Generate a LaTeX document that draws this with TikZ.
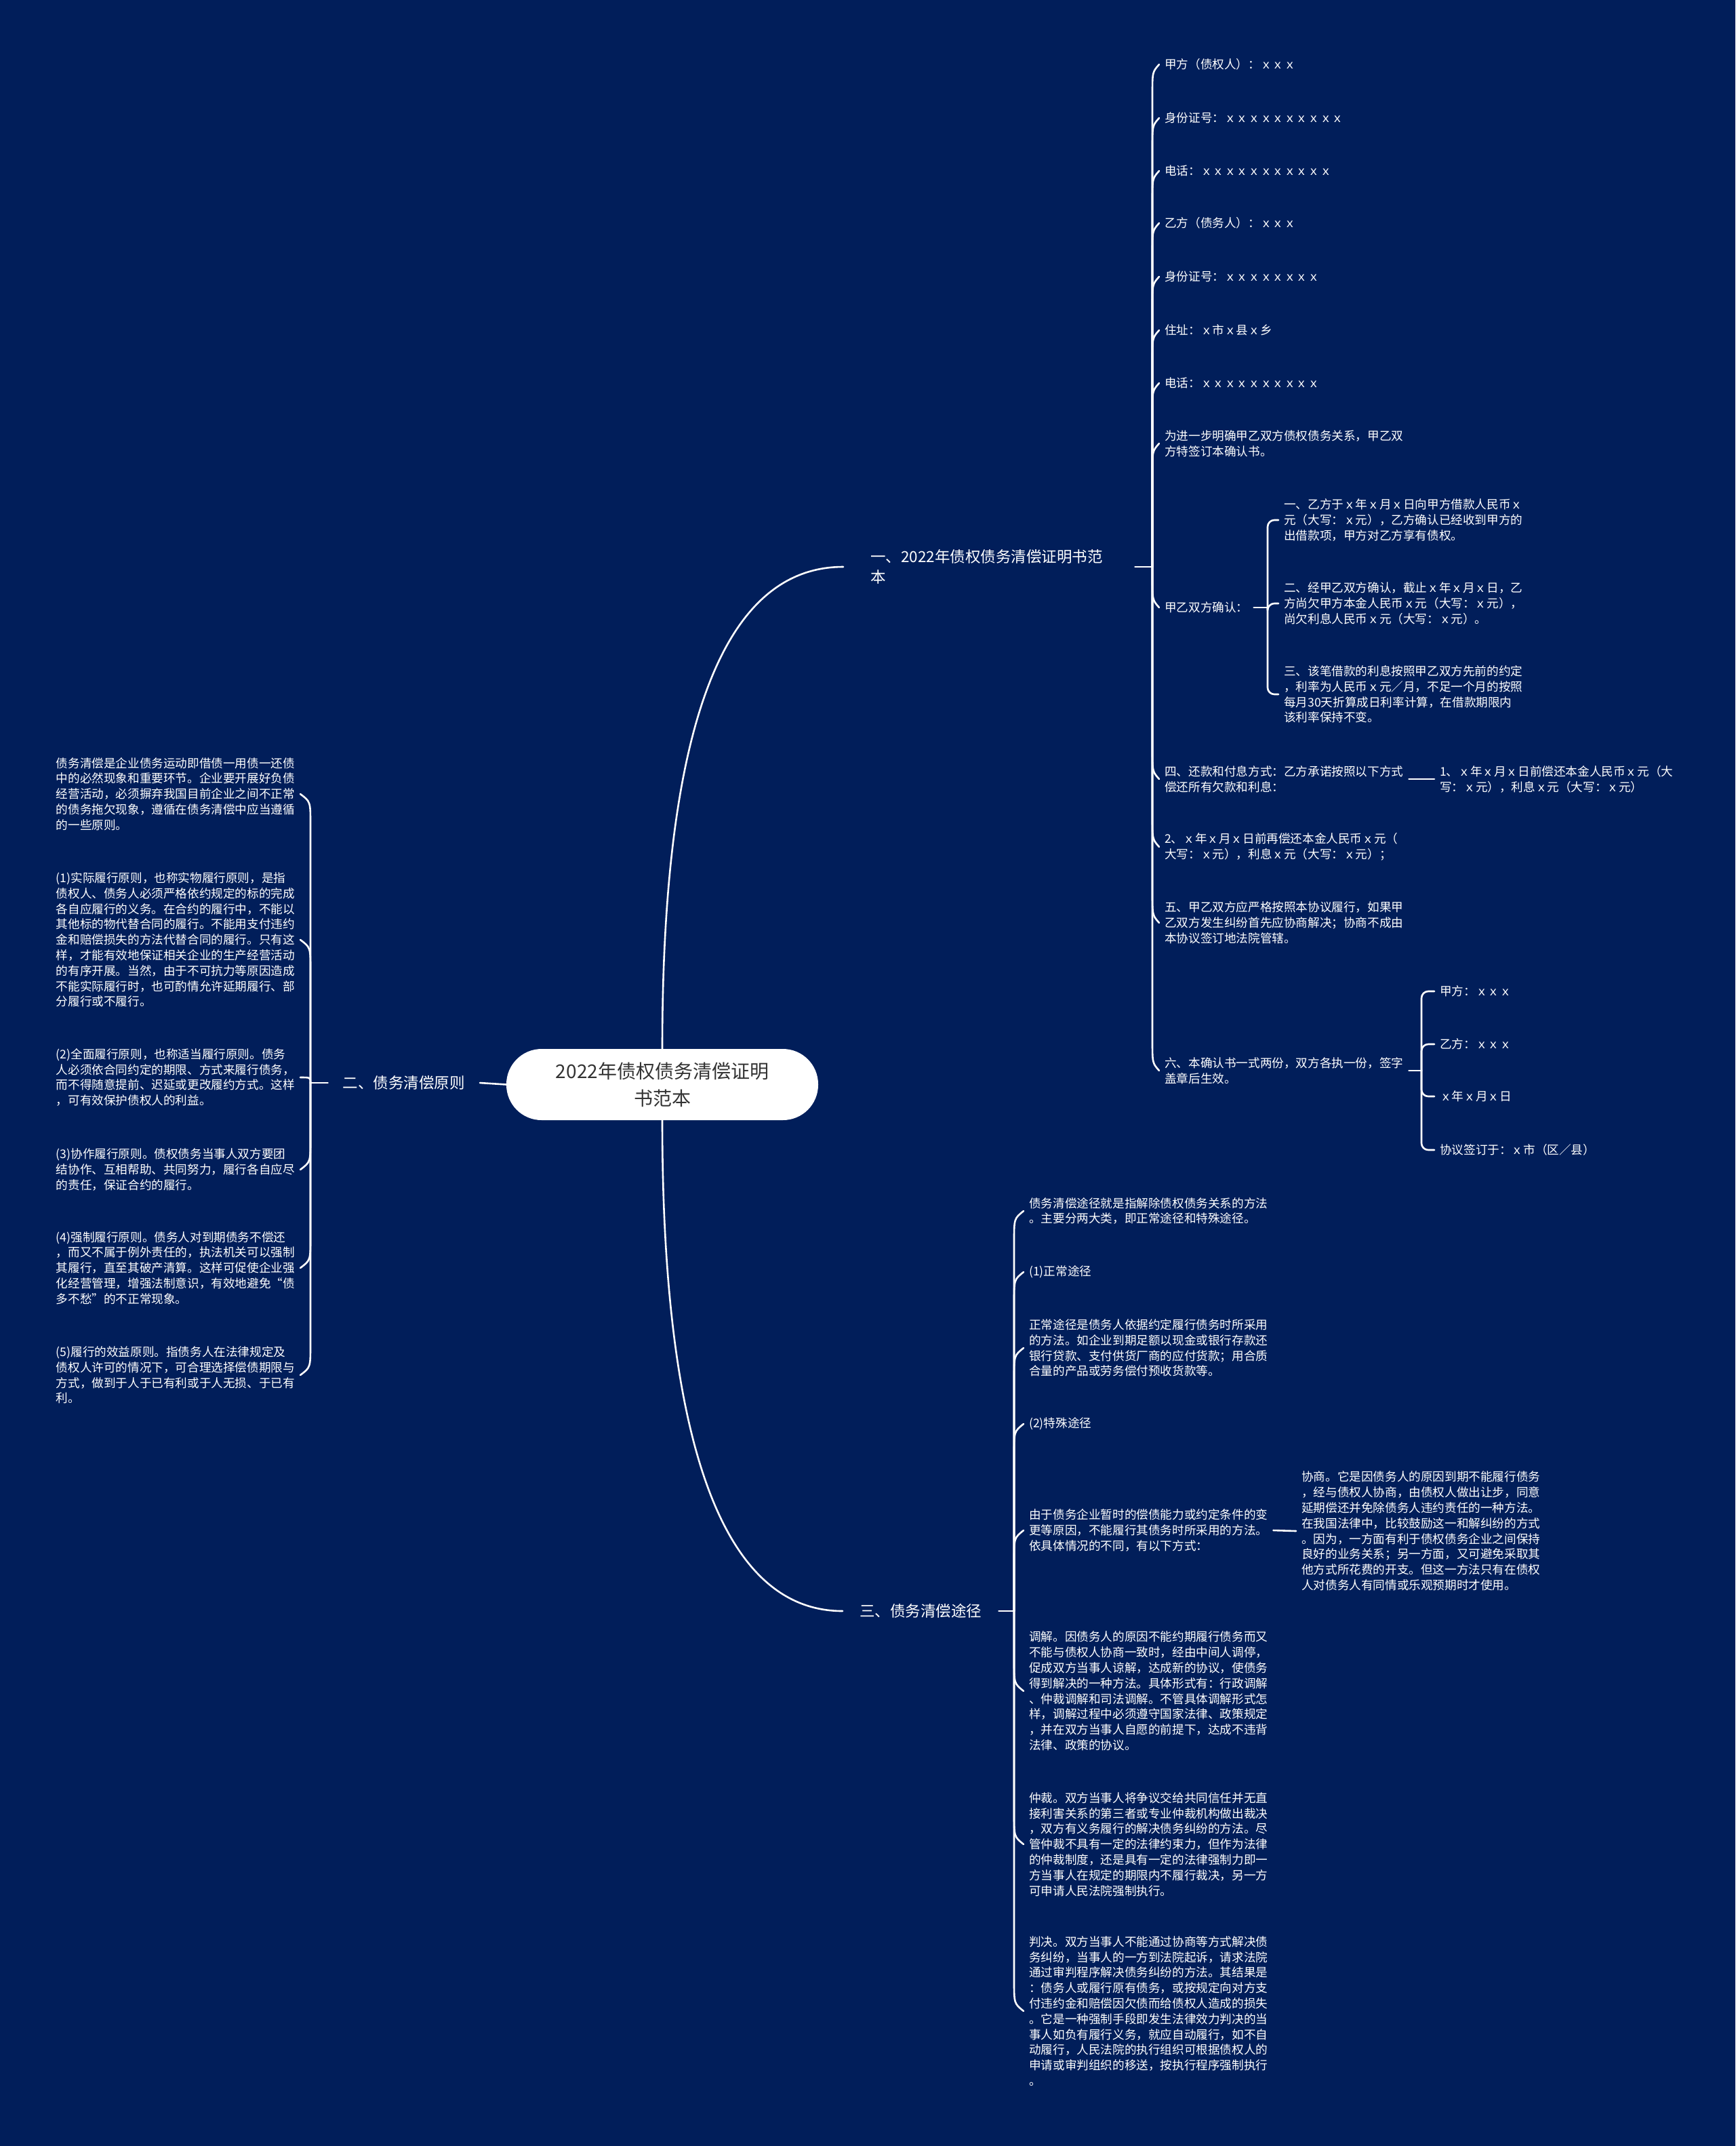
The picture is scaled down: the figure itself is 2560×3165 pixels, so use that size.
\documentclass[tikz,border=0pt]{standalone}
\usepackage{fontspec}
\setmainfont{Noto Sans CJK SC}
\usetikzlibrary{calc}
\definecolor{bgc}{RGB}{1,30,90}
\definecolor{ctext}{RGB}{51,51,51}
\begin{document}
\begin{tikzpicture}[x=1pt,y=-1pt,
  conn/.style={draw=white, line width=2.6pt, line cap=round},
  leaf/.style={text=white, font=\fontsize{17.6}{22.8}\selectfont, align=left, inner xsep=8pt, inner ysep=0pt},
  lleaf/.style={leaf, anchor=east},
  rleaf/.style={leaf, anchor=west},
  brlabel/.style={text=white, font=\fontsize{22.5}{30}\selectfont, align=left, inner ysep=0pt},
  hk/.style={to path={-- ($(\tikztostart |- \tikztotarget)+(0,#1)$) .. controls ($(\tikztostart |- \tikztotarget)+(0,#1/4)$) .. (\tikztotarget)}}
]
\fill[bgc] (0,0) rectangle (2560,3165);
\useasboundingbox (0,0) rectangle (2560,3165);

% root
\node[fill=white, rounded corners=52pt, minimum width=460pt, minimum height=105pt, text=ctext, align=center, font=\fontsize{28}{40}\selectfont] (root) at (977,1599.5) {2022年债权债务清偿证明\\书范本};

% branches
\node[brlabel, anchor=west, inner xsep=40pt, text width=350pt] (b1) at (1244,836) {一、2022年债权债务清偿证明书范\\本};
\node[brlabel, anchor=east, inner xsep=22pt] (b2) at (708,1597) {二、债务清偿原则};
\node[brlabel, anchor=west, inner xsep=25pt] (b3) at (1243,2376) {三、债务清偿途径};

\coordinate (j1) at (1700,836);
\coordinate (j2) at (458,1597);
\coordinate (j3) at (1496,2376);
\coordinate (j9) at (1870,896);
\coordinate (j13) at (2097,1579);

% branch 1 children
\node[rleaf] (c1) at (1710,95) {甲方（债权人）：ｘｘｘ};
\node[rleaf] (c2) at (1710,174) {身份证号：ｘｘｘｘｘｘｘｘｘｘ};
\node[rleaf] (c3) at (1710,252) {电话：ｘｘｘｘｘｘｘｘｘｘｘ};
\node[rleaf] (c4) at (1710,329) {乙方（债务人）：ｘｘｘ};
\node[rleaf] (c5) at (1710,408) {身份证号：ｘｘｘｘｘｘｘｘ};
\node[rleaf] (c6) at (1710,487) {住址：ｘ市ｘ县ｘ乡};
\node[rleaf] (c7) at (1710,565) {电话：ｘｘｘｘｘｘｘｘｘｘ};
\node[rleaf] (c8) at (1710,654) {为进一步明确甲乙双方债权债务关系，甲乙双\\方特签订本确认书。};
\node[rleaf] (c9) at (1710,896) {甲乙双方确认：};
\node[rleaf] (c10) at (1710,1149) {四、还款和付息方式：乙方承诺按照以下方式\\偿还所有欠款和利息：};
\node[rleaf] (c11) at (1710,1249) {2、ｘ年ｘ月ｘ日前再偿还本金人民币ｘ元（\\大写：ｘ元），利息ｘ元（大写：ｘ元）；};
\node[rleaf] (c12) at (1710,1361) {五、甲乙双方应严格按照本协议履行，如果甲\\乙双方发生纠纷首先应协商解决；协商不成由\\本协议签订地法院管辖。};
\node[rleaf] (c13) at (1710,1579) {六、本确认书一式两份，双方各执一份，签字\\盖章后生效。};

\node[rleaf] (c9a) at (1886,767) {一、乙方于ｘ年ｘ月ｘ日向甲方借款人民币ｘ\\元（大写：ｘ元），乙方确认已经收到甲方的\\出借款项，甲方对乙方享有债权。};
\node[rleaf] (c9b) at (1886,890) {二、经甲乙双方确认，截止ｘ年ｘ月ｘ日，乙\\方尚欠甲方本金人民币ｘ元（大写：ｘ元），\\尚欠利息人民币ｘ元（大写：ｘ元）。};
\node[rleaf] (c9c) at (1886,1024) {三、该笔借款的利息按照甲乙双方先前的约定\\，利率为人民币ｘ元／月，不足一个月的按照\\每月30天折算成日利率计算，在借款期限内\\该利率保持不变。};

\node[rleaf] (c10a) at (2116,1149) {1、ｘ年ｘ月ｘ日前偿还本金人民币ｘ元（大\\写：ｘ元），利息ｘ元（大写：ｘ元）};

\node[rleaf] (c13a) at (2116,1462) {甲方：ｘｘｘ};
\node[rleaf] (c13b) at (2116,1540) {乙方：ｘｘｘ};
\node[rleaf] (c13c) at (2116,1617) {ｘ年ｘ月ｘ日};
\node[rleaf] (c13d) at (2116,1696) {协议签订于：ｘ市（区／县）};

% branch 2 children
\node[lleaf] (L1) at (443,1171) {债务清偿是企业债务运动即借债一用债一还债\\中的必然现象和重要环节。企业要开展好负债\\经营活动，必须摒弃我国目前企业之间不正常\\的债务拖欠现象，遵循在债务清偿中应当遵循\\的一些原则。};
\node[lleaf] (L2) at (443,1386) {(1)实际履行原则，也称实物履行原则，是指\\债权人、债务人必须严格依约规定的标的完成\\各自应履行的义务。在合约的履行中，不能以\\其他标的物代替合同的履行。不能用支付违约\\金和赔偿损失的方法代替合同的履行。只有这\\样，才能有效地保证相关企业的生产经营活动\\的有序开展。当然，由于不可抗力等原因造成\\不能实际履行时，也可酌情允许延期履行、部\\分履行或不履行。};
\node[lleaf] (L3) at (443,1589) {(2)全面履行原则，也称适当履行原则。债务\\人必须依合同约定的期限、方式来履行债务，\\而不得随意提前、迟延或更改履约方式。这样\\，可有效保护债权人的利益。};
\node[lleaf] (L4) at (443,1725) {(3)协作履行原则。债权债务当事人双方要团\\结协作、互相帮助、共同努力，履行各自应尽\\的责任，保证合约的履行。};
\node[lleaf] (L5) at (443,1870) {(4)强制履行原则。债务人对到期债务不偿还\\，而又不属于例外责任的，执法机关可以强制\\其履行，直至其破产清算。这样可促使企业强\\化经营管理，增强法制意识，有效地避免“债\\多不愁”的不正常现象。};
\node[lleaf] (L6) at (443,2028) {(5)履行的效益原则。指债务人在法律规定及\\债权人许可的情况下，可合理选择偿债期限与\\方式，做到于人于已有利或于人无损、于已有\\利。};

% branch 3 children
\node[rleaf] (R1) at (1510,1786) {债务清偿途径就是指解除债权债务关系的方法\\。主要分两大类，即正常途径和特殊途径。};
\node[rleaf] (R2) at (1510,1876) {(1)正常途径};
\node[rleaf] (R3) at (1510,1988) {正常途径是债务人依据约定履行债务时所采用\\的方法。如企业到期足额以现金或银行存款还\\银行贷款、支付供货厂商的应付货款；用合质\\合量的产品或劳务偿付预收货款等。};
\node[rleaf] (R4) at (1510,2100) {(2)特殊途径};
\node[rleaf] (R5) at (1510,2257) {由于债务企业暂时的偿债能力或约定条件的变\\更等原因，不能履行其债务时所采用的方法。\\依具体情况的不同，有以下方式：};
\node[rleaf] (R6) at (1510,2494) {调解。因债务人的原因不能约期履行债务而又\\不能与债权人协商一致时，经由中间人调停，\\促成双方当事人谅解，达成新的协议，使债务\\得到解决的一种方法。具体形式有：行政调解\\、仲裁调解和司法调解。不管具体调解形式怎\\样，调解过程中必须遵守国家法律、政策规定\\，并在双方当事人自愿的前提下，达成不违背\\法律、政策的协议。};
\node[rleaf] (R7) at (1510,2720) {仲裁。双方当事人将争议交给共同信任并无直\\接利害关系的第三者或专业仲裁机构做出裁决\\，双方有义务履行的解决债务纠纷的方法。尽\\管仲裁不具有一定的法律约束力，但作为法律\\的仲裁制度，还是具有一定的法律强制力即一\\方当事人在规定的期限内不履行裁决，另一方\\可申请人民法院强制执行。};
\node[rleaf] (R8) at (1510,2966) {判决。双方当事人不能通过协商等方式解决债\\务纠纷，当事人的一方到法院起诉，请求法院\\通过审判程序解决债务纠纷的方法。其结果是\\：债务人或履行原有债务，或按规定向对方支\\付违约金和赔偿因欠债而给债权人造成的损失\\。它是一种强制手段即发生法律效力判决的当\\事人如负有履行义务，就应自动履行，如不自\\动履行，人民法院的执行组织可根据债权人的\\申请或审判组织的移送，按执行程序强制执行\\。};
\node[rleaf] (R5a) at (1912,2258) {协商。它是因债务人的原因到期不能履行债务\\，经与债权人协商，由债权人做出让步，同意\\延期偿还并免除债务人违约责任的一种方法。\\在我国法律中，比较鼓励这一和解纠纷的方式\\。因为，一方面有利于债权债务企业之间保持\\良好的业务关系；另一方面，又可避免采取其\\他方式所花费的开支。但这一方法只有在债权\\人对债务人有同情或乐观预期时才使用。};

% connectors: root to branches
\draw[conn] (root.north) .. controls (977,1150) and (1040,836) .. (b1.west);
\draw[conn] (root.south) .. controls (977,2050) and (1040,2376) .. (b3.west);
\draw[conn] (root.west) -- (b2.east);
\draw[conn] (b1.east) -- (j1);
\draw[conn] (b2.west) -- (j2);
\draw[conn] (b3.east) -- (j3);

% branch 1
\foreach \n in {c1,c2,c3,c4,c5,c6,c7,c8} {\draw[conn] (j1) to[hk=45] (\n.west);}
\foreach \n in {c9,c10,c11,c12,c13} {\draw[conn] (j1) to[hk=-45] (\n.west);}
\draw[conn] (c9.east) -- (j9);
\foreach \n in {c9a,c9b,c9c} {\draw[conn, rounded corners=10pt] (j9) |- (\n.west);}
\draw[conn] (c10.east) -- (c10a.west);
\draw[conn] (c13.east) -- (j13);
\foreach \n in {c13a,c13b,c13c,c13d} {\draw[conn, rounded corners=10pt] (j13) |- (\n.west);}

% branch 2
\foreach \n in {L1,L2} {\draw[conn] (j2) to[hk=45] (\n.east);}
\draw[conn] (j2) .. controls (458,1589) .. (L3.east);
\foreach \n in {L4,L5,L6} {\draw[conn] (j2) to[hk=-45] (\n.east);}

% branch 3
\foreach \n in {R1,R2,R3,R4,R5} {\draw[conn] (j3) to[hk=45] (\n.west);}
\foreach \n in {R6,R7,R8} {\draw[conn] (j3) to[hk=-45] (\n.west);}
\draw[conn] (R5.east) -- (R5a.west);
\end{tikzpicture}
\end{document}
